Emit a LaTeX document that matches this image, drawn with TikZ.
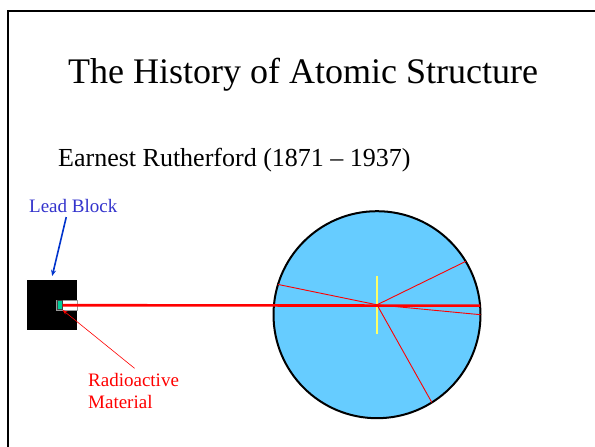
\documentclass[tikz,border=0pt]{standalone}
\usepackage{fontspec}
\setmainfont{Liberation Serif}
\usetikzlibrary{arrows.meta, positioning, calc}
\definecolor{cblue}{HTML}{3333CC}
\definecolor{cdeepblue}{HTML}{0033CC}
\definecolor{cred}{HTML}{FF0000}
\definecolor{csky}{HTML}{66CCFF}
\definecolor{cteal}{HTML}{00CC99}
\definecolor{cyellow}{HTML}{FFFF66}
\tikzset{
  every picture/.style={x=1pt, y=-1pt},
  txt/.style={inner sep=0pt, anchor=base west},
  lbl/.style={txt, font=\fontsize{19}{21.3}\selectfont, align=left},
  beam/.style={draw=cred, line width=2.6pt},
  ray/.style={draw=cred, line width=0.9pt},
  leadarrow/.style={-{Stealth[length=6pt, width=5pt]}, draw=cdeepblue, line width=1.6pt},
  radarrow/.style={-{Stealth[length=5pt, width=3.5pt]}, draw=cred, line width=0.6pt},
}

\begin{document}
\begin{tikzpicture}
  \useasboundingbox (0,0) rectangle (595,447);
  % slide frame
  \draw[line width=2.5pt] (8,450) |- (600,11);
  % headings
  \node[txt, font=\fontsize{36}{43}\selectfont] (title) at (68,83.3) {The History of Atomic Structure};
  \node[txt, font=\fontsize{26}{31}\selectfont] (sub) at (58,166.7) {Earnest Rutherford (1871 -- 1937)};
  % lead block with the source inside
  \node[fill=black, minimum size=50, inner sep=0pt, anchor=north west] (block) at (27,280) {};
  \node[fill=white, draw=black!40, line width=0.4pt, minimum width=21, minimum height=10.5, inner sep=0pt, anchor=east] (slot) at (block.east) {};
  \node[fill=cteal, draw=black!75, line width=0.6pt, minimum width=5, minimum height=9, inner sep=0pt, anchor=west] (src) at ([xshift=1]slot.west) {};
  \node[lbl, text=cblue] (lead) at (29,212.7) {Lead Block};
  \node[lbl, text=cred] (radio) at (88,408) {Radioactive\\Material};
  \draw[leadarrow] ([xshift=-7, yshift=-4]lead.south) -- ([yshift=4]block.north);
  \draw[radarrow] ([xshift=1, yshift=5]radio.north) -- (src.south east);
  % gold foil atom
  \node[circle, draw=black, line width=2pt, fill=csky, minimum size=207, inner sep=0pt, outer sep=0pt] (atom) at (377,314.7) {};
  \coordinate (nuc) at (377,304.8);
  \draw[cyellow, line width=1.5pt] ([yshift=29]nuc) -- ([yshift=-29.2]nuc);
  \draw[beam] (src.east) -- (atom.5.5);
  \foreach \ang in {163.4, 31.3, 0, -58.4}
    \draw[ray] (nuc) -- (atom.\ang);
\end{tikzpicture}
\end{document}
